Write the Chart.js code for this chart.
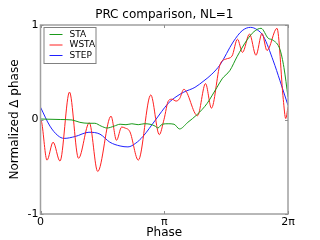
<!DOCTYPE html>
<html>
<head>
<meta charset="utf-8">
<script src="https://cdn.jsdelivr.net/npm/chart.js@4"></script>
<style>
    html, body { margin: 0; padding: 0; background: #fff; }
    #wrap { width: 320px; height: 240px; }
</style>
</head>
<body>
<div id="wrap"><canvas id="prcChart" width="320" height="240"></canvas></div>
<script>
// Phase (radians) and normalized delta phase
const staPhase = [0.00, 0.50, 0.80, 1.00, 1.21, 1.38, 1.54, 1.69, 1.87, 2.02, 2.17, 2.32, 2.48, 2.63, 2.78, 2.91, 2.98, 3.09, 3.24, 3.39, 3.53, 3.74, 3.97, 4.23, 4.35, 4.48, 4.61, 4.81, 4.99, 5.24, 5.42, 5.60, 5.78, 5.90, 6.08, 6.18, 6.283];
const staValues = [0.005, 0.0, -0.005, -0.03, -0.04, -0.04, -0.07, -0.09, -0.07, -0.05, -0.055, -0.045, -0.055, -0.045, -0.05, -0.07, -0.09, -0.05, -0.045, -0.05, -0.1, -0.03, 0.05, 0.17, 0.25, 0.34, 0.43, 0.52, 0.665, 0.84, 0.93, 0.965, 0.86, 0.84, 0.74, 0.55, 0.24];

const wstaPhase = [0.00, 0.03, 0.165, 0.32, 0.495, 0.736, 0.965, 1.239, 1.452, 1.79, 1.93, 2.06, 2.145, 2.27, 2.483, 2.80, 3.016, 3.135, 3.25, 3.34, 3.44, 3.53, 3.64, 3.986, 4.19, 4.34, 4.557, 4.71, 4.86, 5.00, 5.128, 5.306, 5.47, 5.623, 5.75, 6.003, 6.164, 6.225, 6.283];
const wstaValues = [0.0, -0.03, -0.43, -0.24, -0.44, 0.29, -0.41, -0.035, -0.55, 0.035, -0.22, -0.08, -0.09, -0.13, -0.43, 0.26, -0.16, 0.0, 0.2, 0.215, 0.195, 0.22, 0.32, 0.04, 0.38, 0.12, 0.58, 0.64, 0.67, 0.85, 0.71, 0.905, 0.68, 0.91, 0.73, 0.965, 0.21, 0.01, 0.13];

const stepPhase = [0.00, 0.24, 0.44, 0.60, 0.88, 1.23, 1.51, 1.76, 2.02, 2.22, 2.42, 2.60, 2.91, 3.24, 3.44, 3.64, 3.92, 4.15, 4.35, 4.56, 4.89, 5.12, 5.33, 5.50, 5.66, 5.91, 6.08, 6.283];
const stepValues = [0.13, -0.07, -0.17, -0.2, -0.18, -0.135, -0.155, -0.24, -0.28, -0.29, -0.25, -0.18, -0.01, 0.17, 0.24, 0.29, 0.34, 0.41, 0.48, 0.58, 0.82, 0.94, 0.975, 0.95, 0.88, 0.62, 0.41, 0.15];

const xTickValues = [0, Math.PI, 2 * Math.PI];
const xTickLabels = ['0', 'π', '2π'];
const yTickValues = [-1, 0, 1];

const chartTitle = 'PRC comparison, NL=1';
const FONT = 'DejaVu Sans';

function toPoints(xs, ys) {
    return xs.map((x, i) => ({ x: x, y: ys[i] }));
}

// Title over the axes, frame, inward ticks and the legend box in the upper left
const framePlugin = {
    id: 'frame',
    afterDraw(chart) {
        const { ctx, chartArea: a, scales } = chart;
        ctx.save();

        ctx.fillStyle = '#000';
        ctx.font = '12px "' + FONT + '"';
        ctx.textAlign = 'center';
        ctx.textBaseline = 'middle';
        ctx.fillText(chartTitle, (a.left + a.right) / 2, 15);

        ctx.strokeStyle = '#a0a0a0';
        ctx.lineWidth = 1.5;
        ctx.strokeRect(a.left, a.top, a.right - a.left, a.bottom - a.top);

        ctx.lineWidth = 1;
        ctx.strokeStyle = '#909090';
        xTickValues.forEach(v => {
            const px = Math.round(scales.x.getPixelForValue(v)) + 0.5;
            ctx.beginPath();
            ctx.moveTo(px, a.bottom); ctx.lineTo(px, a.bottom - 3);
            ctx.moveTo(px, a.top); ctx.lineTo(px, a.top + 3);
            ctx.stroke();
        });
        yTickValues.forEach(v => {
            const py = Math.round(scales.y.getPixelForValue(v)) + 0.5;
            ctx.beginPath();
            ctx.moveTo(a.left, py); ctx.lineTo(a.left + 3, py);
            ctx.moveTo(a.right, py); ctx.lineTo(a.right - 3, py);
            ctx.stroke();
        });

        // legend
        const bx = a.left + 3, by = a.top + 2, bw = 52, bh = 36;
        ctx.fillStyle = '#fff';
        ctx.fillRect(bx, by, bw, bh);
        ctx.strokeStyle = '#808080';
        ctx.lineWidth = 1;
        ctx.strokeRect(bx + 0.5, by + 0.5, bw, bh);
        ctx.font = '9px "' + FONT + '"';
        ctx.textAlign = 'left';
        ctx.textBaseline = 'middle';
        chart.data.datasets.forEach((ds, i) => {
            const y = by + 7.5 + i * 10.5;
            ctx.strokeStyle = ds.borderColor;
            ctx.beginPath();
            ctx.moveTo(bx + 6, y); ctx.lineTo(bx + 19, y);
            ctx.stroke();
            ctx.fillStyle = '#000';
            ctx.fillText(ds.label, bx + 26, y);
        });
        ctx.restore();
    }
};

new Chart(document.getElementById('prcChart'), {
    type: 'line',
    data: {
        datasets: [
            { label: 'STA', data: toPoints(staPhase, staValues), borderColor: '#1a9a1a' },
            { label: 'WSTA', data: toPoints(wstaPhase, wstaValues), borderColor: '#ff2020' },
            { label: 'STEP', data: toPoints(stepPhase, stepValues), borderColor: '#2020ff' }
        ].map(ds => Object.assign(ds, {
            borderWidth: 1,
            pointRadius: 0,
            fill: false,
            cubicInterpolationMode: 'monotone'
        }))
    },
    options: {
        responsive: false,
        animation: false,
        layout: { padding: { left: 0, right: 32, top: 25, bottom: 0 } },
        plugins: {
            legend: { display: false },
            tooltip: { enabled: false },
            title: { display: false }
        },
        scales: {
            x: {
                type: 'linear',
                min: 0,
                max: 2 * Math.PI,
                grid: { display: false, drawTicks: false },
                border: { display: false },
                afterBuildTicks: scale => { scale.ticks = xTickValues.map(v => ({ value: v })); },
                afterFit: scale => { scale.height = 26; },
                ticks: {
                    color: '#000',
                    font: { family: FONT, size: 11 },
                    padding: 2,
                    maxRotation: 0,
                    callback: (v, i) => xTickLabels[i]
                },
                title: {
                    display: true,
                    text: 'Phase',
                    color: '#000',
                    font: { family: FONT, size: 12 },
                    padding: { top: 0, bottom: 0 }
                }
            },
            y: {
                min: -1,
                max: 1,
                grid: { display: false, drawTicks: false },
                border: { display: false },
                afterBuildTicks: scale => { scale.ticks = yTickValues.map(v => ({ value: v })); },
                afterFit: scale => { scale.width = 40.5; },
                ticks: {
                    color: '#000',
                    font: { family: FONT, size: 11 },
                    padding: 2,
                    callback: v => String(v)
                },
                title: {
                    display: true,
                    text: 'Normalized Δ phase',
                    color: '#000',
                    font: { family: FONT, size: 12 },
                    padding: { top: 8, bottom: 0 }
                }
            }
        }
    },
    plugins: [framePlugin]
});
</script>
</body>
</html>
